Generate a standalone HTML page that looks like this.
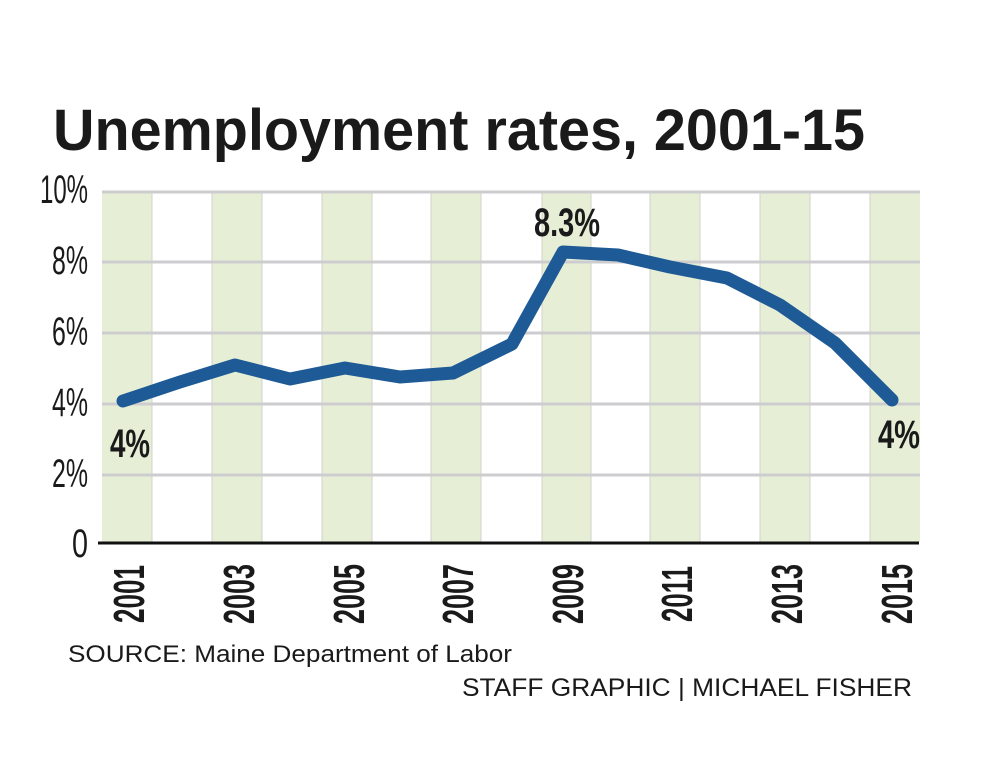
<!DOCTYPE html>
<html><head><meta charset="utf-8"><style>
html,body{margin:0;padding:0;background:#fff;}
svg{display:block;}
text{font-family:"Liberation Sans",sans-serif;fill:#1a1a1a;}
</style></head><body>
<svg width="1000" height="783" viewBox="0 0 1000 783" xmlns="http://www.w3.org/2000/svg">
<rect width="1000" height="783" fill="#fff"/>
<text x="53" y="150" font-size="58" font-weight="bold" textLength="812" lengthAdjust="spacingAndGlyphs">Unemployment rates, 2001-15</text>
<g fill="#e6efd6">
<rect x="102" y="192" width="50" height="350"/>
<rect x="212" y="192" width="50" height="350"/>
<rect x="322" y="192" width="50" height="350"/>
<rect x="431" y="192" width="50" height="350"/>
<rect x="542" y="192" width="49" height="350"/>
<rect x="650" y="192" width="50" height="350"/>
<rect x="760" y="192" width="50" height="350"/>
<rect x="870" y="192" width="50" height="350"/>
</g>
<g stroke="#d2d2cc" stroke-width="1">
<line x1="152" y1="192" x2="152" y2="542"/><line x1="212" y1="192" x2="212" y2="542"/>
<line x1="262" y1="192" x2="262" y2="542"/><line x1="322" y1="192" x2="322" y2="542"/>
<line x1="372" y1="192" x2="372" y2="542"/><line x1="431" y1="192" x2="431" y2="542"/>
<line x1="481" y1="192" x2="481" y2="542"/><line x1="542" y1="192" x2="542" y2="542"/>
<line x1="591" y1="192" x2="591" y2="542"/><line x1="650" y1="192" x2="650" y2="542"/>
<line x1="700" y1="192" x2="700" y2="542"/><line x1="760" y1="192" x2="760" y2="542"/>
<line x1="810" y1="192" x2="810" y2="542"/><line x1="870" y1="192" x2="870" y2="542"/>
</g>
<g stroke="#cdcdd0" stroke-width="3">
<line x1="102" y1="192" x2="920" y2="192"/>
<line x1="102" y1="262" x2="920" y2="262"/>
<line x1="102" y1="333" x2="920" y2="333"/>
<line x1="102" y1="404" x2="920" y2="404"/>
<line x1="102" y1="475" x2="920" y2="475"/>
</g>
<line x1="98" y1="543" x2="919" y2="543" stroke="#111" stroke-width="3"/>
<g font-size="40" text-anchor="end">
<text x="88" y="203" textLength="48" lengthAdjust="spacingAndGlyphs">10%</text>
<text x="88" y="274" textLength="36" lengthAdjust="spacingAndGlyphs">8%</text>
<text x="88" y="345" textLength="36" lengthAdjust="spacingAndGlyphs">6%</text>
<text x="88" y="416" textLength="36" lengthAdjust="spacingAndGlyphs">4%</text>
<text x="88" y="487" textLength="36" lengthAdjust="spacingAndGlyphs">2%</text>
<text x="88" y="557" textLength="16" lengthAdjust="spacingAndGlyphs">0</text>
</g>
<polyline fill="none" stroke="#1d5a96" stroke-width="13" stroke-linejoin="round" stroke-linecap="round"
points="123,401 180,382 235,365 290,379 345,368 400,377 453,373 512,344 563,252 618,255 670,267 727,278 780,305 835,343 892,400"/>
<g font-size="40" font-weight="bold">
<text x="110" y="457" textLength="40" lengthAdjust="spacingAndGlyphs">4%</text>
<text x="534" y="236" textLength="66" lengthAdjust="spacingAndGlyphs">8.3%</text>
<text x="878" y="448" textLength="42" lengthAdjust="spacingAndGlyphs">4%</text>
</g>
<g font-size="44" font-weight="bold" text-anchor="middle">
<text transform="translate(144,594) rotate(-90)" textLength="58" lengthAdjust="spacingAndGlyphs">2001</text>
<text transform="translate(254,594) rotate(-90)" textLength="60" lengthAdjust="spacingAndGlyphs">2003</text>
<text transform="translate(364,594) rotate(-90)" textLength="60" lengthAdjust="spacingAndGlyphs">2005</text>
<text transform="translate(473,594) rotate(-90)" textLength="60" lengthAdjust="spacingAndGlyphs">2007</text>
<text transform="translate(583,594) rotate(-90)" textLength="60" lengthAdjust="spacingAndGlyphs">2009</text>
<text transform="translate(692,594) rotate(-90)" textLength="56" lengthAdjust="spacingAndGlyphs">2011</text>
<text transform="translate(802,594) rotate(-90)" textLength="60" lengthAdjust="spacingAndGlyphs">2013</text>
<text transform="translate(912,594) rotate(-90)" textLength="60" lengthAdjust="spacingAndGlyphs">2015</text>
</g>
<text x="68" y="662" font-size="24" textLength="444" lengthAdjust="spacingAndGlyphs">SOURCE: Maine Department of Labor</text>
<text x="462" y="696" font-size="25" textLength="450" lengthAdjust="spacingAndGlyphs">STAFF GRAPHIC | MICHAEL FISHER</text>
</svg>
</body></html>
